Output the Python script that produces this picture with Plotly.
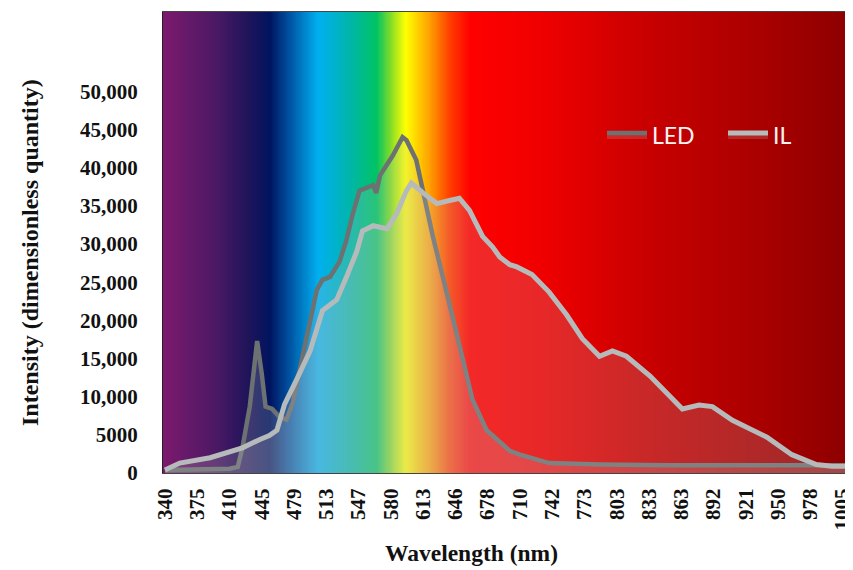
import numpy as np
import plotly.graph_objects as go

# tick labels of the (channel) wavelength axis, evenly spaced
tick_wl = [340, 375, 410, 445, 479, 513, 547, 580, 613, 646, 678,
           710, 742, 773, 803, 833, 863, 892, 921, 950, 978, 1005]

led_wl = [340, 378, 410, 419, 424, 432, 440, 445, 449, 456, 464, 471, 478,
          488, 503, 509, 517, 527, 534, 541, 548, 562, 565, 569, 582, 592,
          596, 606, 613, 623, 637, 650, 663, 677, 690, 700, 710, 739, 788,
          850, 1011]
led_val = [400, 500, 550, 800, 3300, 8700, 17300, 13000, 8700, 8400, 7300,
           7000, 9300, 15300, 24000, 25300, 25700, 27700, 30400, 34000, 37000,
           37700, 36700, 39000, 41600, 44000, 43600, 41000, 37000, 31000,
           23700, 16700, 9600, 5600, 4000, 2900, 2400, 1300, 1100, 1000, 1000]

il_wl = [340, 356, 389, 407, 424, 443, 453, 461, 469, 482, 496, 509, 524,
         534, 545, 551, 562, 576, 586, 596, 601, 613, 627, 640, 650, 660,
         673, 683, 690, 700, 707, 722, 739, 756, 771, 787, 799, 812, 834,
         864, 879, 891, 909, 940, 962, 983, 996, 1011]
il_val = [400, 1300, 2000, 2700, 3300, 4400, 4900, 5600, 9000, 12300, 16000,
          21300, 22700, 25600, 29000, 31700, 32400, 32000, 34000, 37000, 38000,
          36700, 35300, 35700, 36000, 34400, 31000, 29600, 28300, 27300, 27000,
          26000, 23700, 20700, 17600, 15300, 16000, 15300, 12700, 8400, 8900,
          8700, 6900, 4700, 2400, 1100, 900, 900]

y_ticks = [0, 5000, 10000, 15000, 20000, 25000, 30000, 35000, 40000, 45000, 50000]
y_tick_text = ["0", "5000", "10,000", "15,000", "20,000", "25,000", "30,000",
               "35,000", "40,000", "45,000", "50,000"]

# spectrum background colour stops (fraction of plot width)
spec_stops = [
    (0.0, "rgb(125,25,110)"), (0.076, "rgb(75,25,100)"), (0.124, "rgb(30,20,90)"),
    (0.155, "rgb(0,20,95)"), (0.182, "rgb(0,80,160)"), (0.225, "rgb(0,176,240)"),
    (0.265, "rgb(0,180,180)"), (0.31, "rgb(0,195,100)"), (0.33, "rgb(130,220,40)"),
    (0.352, "rgb(255,255,0)"), (0.385, "rgb(255,165,0)"), (0.417, "rgb(255,60,0)"),
    (0.446, "rgb(255,0,0)"), (0.548, "rgb(240,0,0)"), (0.705, "rgb(200,0,0)"),
    (0.865, "rgb(170,0,0)"), (1.0, "rgb(140,0,0)"),
]

knots_wl = tick_wl + [1033]
knots_idx = list(range(len(tick_wl))) + [len(tick_wl)]


def pos(wl):
    return np.interp(wl, knots_wl, knots_idx)


x_lo, x_hi = -0.06, 21.26
y_hi = 60400

# page body has an 8px margin; compensate so the plot sits where the reference has it
W, H = 845, 562
ML, MT, MR, MB = 155, 4, 2, 97
PW = W - ML - MR
PH = H - MT - MB
OX, OY = ML + 8, MT + 8  # plot origin in window pixels


def px_x(x):
    return (x - OX) / PW


def px_y(y):
    return (OY + PH - y) / PH


fig = go.Figure()

bx = np.linspace(x_lo, x_hi, 300)
bz = (bx - x_lo) / (x_hi - x_lo)
fig.add_trace(go.Heatmap(x=bx, y=[0, y_hi], z=[bz, bz], colorscale=[list(s) for s in spec_stops],
                         zmin=0, zmax=1, zsmooth="best", showscale=False,
                         hoverinfo="skip", showlegend=False))

fig.add_trace(go.Scatter(x=pos(led_wl), y=led_val, mode="lines", name="LED",
                         line=dict(color="#6c7171", width=4.5),
                         fill="tozeroy", fillcolor="rgba(200,200,200,0.2)"))
fig.add_trace(go.Scatter(x=pos(il_wl), y=il_val, mode="lines", name="IL",
                         line=dict(color="#b6baba", width=5),
                         fill="tozeroy", fillcolor="rgba(200,200,200,0.2)"))

serif = "Liberation Serif"
fig.update_layout(
    width=W, height=H,
    margin=dict(l=ML, r=MR, t=MT, b=MB, autoexpand=False),
    paper_bgcolor="white", plot_bgcolor="white",
    showlegend=True,
    legend=dict(orientation="h", x=px_x(602), y=px_y(135), xanchor="left", yanchor="middle",
                bgcolor="rgba(0,0,0,0)", font=dict(family="Lato", size=23, color="#fff4f4"),
                entrywidth=66, itemwidth=40),
    xaxis=dict(range=[x_lo, x_hi], tickvals=list(range(len(tick_wl))),
               ticktext=[str(t) for t in tick_wl], tickangle=-90,
               tickfont=dict(family=serif, size=21, color="#111", weight="bold"),
               showgrid=False, zeroline=False, showline=True, linecolor="#444",
               linewidth=1, mirror=True, ticks="", ticklabelstandoff=6,
               ticklabeloverflow="allow"),
    yaxis=dict(range=[0, y_hi], tickvals=y_ticks, ticktext=y_tick_text,
               tickfont=dict(family=serif, size=21, color="#111", weight="bold"),
               showgrid=False, zeroline=False, showline=True, linecolor="#222",
               linewidth=1, mirror=True, ticks="", ticklabelstandoff=20),
)

fig.add_annotation(text="Wavelength (nm)", xref="paper", yref="paper",
                   x=px_x(471), y=px_y(553), showarrow=False,
                   font=dict(family=serif, size=23.5, color="#111", weight="bold"),
                   xanchor="center", yanchor="middle")
fig.add_annotation(text="Intensity (dimensionless quantity)", xref="paper", yref="paper",
                   x=px_x(30), y=px_y(253), showarrow=False, textangle=-90,
                   font=dict(family=serif, size=24, color="#111", weight="bold"),
                   xanchor="center", yanchor="middle")

fig.write_html("out.html")
